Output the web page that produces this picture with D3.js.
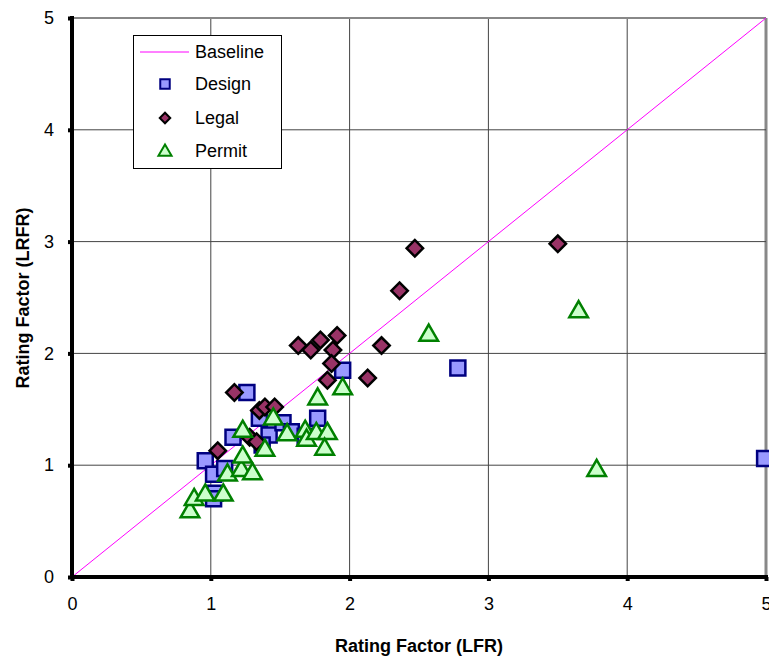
<!DOCTYPE html>
<html><head><meta charset="utf-8">
<script src="https://cdn.jsdelivr.net/npm/d3@7"></script>
<style>body{margin:0;background:#fff}svg{display:block}text{font-family:"Liberation Sans",Arial,sans-serif}</style>
</head><body><svg id="c" width="769" height="660"></svg>
<script>
const xTicks = [0,1,2,3,4,5];
const yTicks = [0,1,2,3,4,5];
const baseline = [[0,0],[5,5]];
const design = [[0.96,1.04],[1.02,0.92],[1.10,0.97],[1.03,0.75],[1.02,0.70],[1.16,1.25],[1.26,1.65],[1.35,1.42],
  [1.42,1.27],[1.37,1.18],[1.52,1.38],[1.58,1.30],[1.68,1.26],[1.77,1.42],[1.95,1.85],[2.78,1.87],[4.99,1.06]];
const legal = [[1.17,1.65],[1.35,1.49],[1.39,1.52],[1.46,1.52],[1.28,1.25],[1.33,1.21],[1.05,1.13],[1.63,2.07],
  [1.72,2.03],[1.79,2.12],[1.91,2.16],[1.88,2.03],[1.87,1.91],[1.84,1.76],[2.13,1.78],[2.23,2.07],[2.36,2.56],
  [2.47,2.94],[3.50,2.98]];
const permit = [[0.85,0.60],[0.88,0.71],[0.96,0.75],[1.09,0.75],[1.12,0.93],[1.22,0.97],[1.30,0.94],[1.23,1.09],
  [1.23,1.32],[1.39,1.15],[1.45,1.43],[1.55,1.29],[1.68,1.32],[1.69,1.24],[1.76,1.30],[1.84,1.30],[1.82,1.16],
  [1.77,1.61],[1.95,1.70],[2.57,2.18],[3.65,2.39],[3.78,0.97]];
const legendNames = ["Baseline","Design","Legal","Permit"];

const svg = d3.select("#c");
const x = d3.scaleLinear().domain([0,5]).range([72,766]);
const y = d3.scaleLinear().domain([0,5]).range([577,18]);

// grid
const g = svg.append("g");
g.selectAll(".vg").data(xTicks.slice(1)).enter().append("line")
  .attr("x1",d=>x(d)).attr("x2",d=>x(d)).attr("y1",y(0)).attr("y2",y(5))
  .attr("stroke",d=>d===5?"#888":"#444").attr("stroke-width",d=>d===5?3:1);
g.selectAll(".hg").data(yTicks.slice(1)).enter().append("line")
  .attr("y1",d=>y(d)).attr("y2",d=>y(d)).attr("x1",x(0)).attr("x2",x(5))
  .attr("stroke",d=>d===5?"#888":"#444").attr("stroke-width",d=>d===5?2:1);

// baseline
svg.append("path").datum(baseline).attr("d",d3.line().x(d=>x(d[0])).y(d=>y(d[1])))
  .attr("stroke","#ff00ff").attr("stroke-width",1).attr("fill","none");

// axes
const xa = svg.append("g").attr("transform",`translate(0,${y(0)})`)
  .call(d3.axisBottom(x).tickValues(xTicks).tickSize(6).tickPadding(14).tickFormat(d3.format("d")));
const ya = svg.append("g").attr("transform",`translate(${x(0)},0)`)
  .call(d3.axisLeft(y).tickValues(yTicks).tickSize(6).tickPadding(12).tickFormat(d3.format("d")));
[xa,ya].forEach(a=>{
  a.select(".domain").attr("stroke","#000").attr("stroke-width",4);
  a.selectAll(".tick line").attr("stroke","#000").attr("stroke-width",4);
  a.selectAll(".tick text").attr("font-size",18).attr("fill","#000").attr("font-family","Liberation Sans, Arial, sans-serif");
});
ya.select(".domain").attr("d",`M0,${y(5)-2}V${y(0)+2}`);
xa.select(".domain").attr("d",`M${x(0)-2},0H${x(5)+2}`);
ya.selectAll(".tick line").attr("x2",-4);
xa.selectAll(".tick line").attr("y2",4);

// markers
const sq = d3.symbol().type(d3.symbolSquare).size(225);
const tr = d3.symbol().type(d3.symbolTriangle).size(150);
svg.append("g").selectAll("path").data(design).enter().append("path")
  .attr("d",sq).attr("transform",d=>`translate(${x(d[0])},${y(d[1])})`)
  .attr("fill","#9999ff").attr("stroke","#000080").attr("stroke-width",2.5);
svg.append("g").selectAll("path").data(legal).enter().append("path")
  .attr("d",d3.symbol().type(d3.symbolSquare).size(135)).attr("transform",d=>`translate(${x(d[0])},${y(d[1])}) rotate(45)`)
  .attr("fill","#993366").attr("stroke","#000").attr("stroke-width",2.5);
svg.append("g").selectAll("path").data(permit).enter().append("path")
  .attr("d",tr).attr("transform",d=>`translate(${x(d[0])},${y(d[1])+2})`)
  .attr("fill","#ccffcc").attr("stroke","#008000").attr("stroke-width",2.5);

// legend
const lg = svg.append("g");
lg.append("rect").attr("x",133.5).attr("y",35.5).attr("width",148).attr("height",133)
  .attr("fill","#fff").attr("stroke","#000").attr("stroke-width",1);
const ly = [52,84,118,151];
lg.append("line").attr("x1",140).attr("x2",189).attr("y1",ly[0]).attr("y2",ly[0]).attr("stroke","#ff00ff").attr("stroke-width",1);
lg.append("path").attr("d",d3.symbol().type(d3.symbolSquare).size(90)).attr("transform",`translate(165,${ly[1]})`)
  .attr("fill","#9999ff").attr("stroke","#000080").attr("stroke-width",2);
lg.append("path").attr("d",d3.symbol().type(d3.symbolSquare).size(55)).attr("transform",`translate(165,${ly[2]}) rotate(45)`)
  .attr("fill","#993366").attr("stroke","#000").attr("stroke-width",2);
lg.append("path").attr("d",d3.symbol().type(d3.symbolTriangle).size(75)).attr("transform",`translate(165,${ly[3]+1})`)
  .attr("fill","#ccffcc").attr("stroke","#008000").attr("stroke-width",2);
lg.selectAll("text.lt").data(legendNames).enter().append("text")
  .attr("x",195).attr("y",(d,i)=>ly[i]+6).attr("font-size",18).text(d=>d);

// axis titles
svg.append("text").attr("x",419).attr("y",652).attr("text-anchor","middle")
  .attr("font-size",18).attr("font-weight","bold").text("Rating Factor (LFR)");
svg.append("text").attr("transform","translate(29,298) rotate(-90)").attr("text-anchor","middle")
  .attr("font-size",18).attr("font-weight","bold").text("Rating Factor (LRFR)");
</script></body></html>
